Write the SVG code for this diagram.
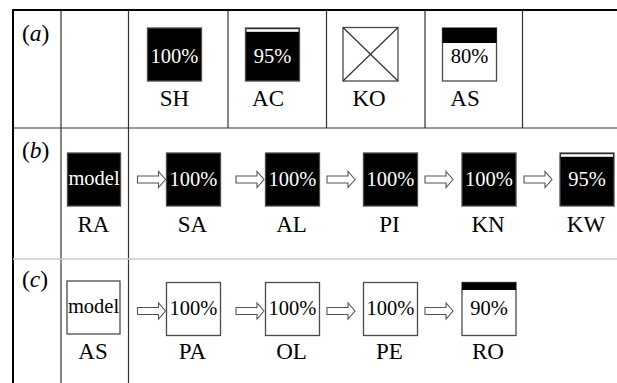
<svg xmlns="http://www.w3.org/2000/svg" width="617" height="383" viewBox="0 0 617 383">
  <style>
    .bg { fill: #ffffff; }
    .frame { stroke: #000; stroke-width: 2; fill: none; }
    .rule { stroke: #333; stroke-width: 1.2; fill: none; }
    .soft { stroke: #c8c8c8; stroke-width: 1.6; fill: none; }
    .dark { fill: #000; stroke: #4a4a4a; stroke-width: 1.3; }
    .light { fill: #fff; stroke: #4a4a4a; stroke-width: 1.3; }
    .band { fill: #000; stroke: none; }
    .gap { fill: #fff; stroke: none; }
    .cross { stroke: #333; stroke-width: 1.2; fill: none; }
    .pct { font-family: "Liberation Serif", "Times New Roman", serif; font-size: 20.5px; text-anchor: middle; }
    .pw { fill: #fff; }
    .pb { fill: #000; }
    .lbl { font-family: "Liberation Serif", "Times New Roman", serif; font-size: 23px; text-anchor: middle; fill: #000; }
    .tag { font-family: "Liberation Serif", "Times New Roman", serif; font-size: 23.5px; fill: #000; }
    .arrow { fill: #fff; stroke: #555; stroke-width: 1.1; stroke-linejoin: miter; }
  </style>
  <defs>
    <path id="harrow" d="M0,-3.5 H21 V-8 L28,0 L21,8 V3.5 H0 Z"/>
  </defs>

  <rect class="bg" x="0" y="0" width="617" height="383"/>

  <!-- table rules -->
  <g id="grid">
    <line class="frame" x1="13" y1="10" x2="617" y2="10"/>
    <line class="frame" x1="13" y1="9" x2="13" y2="383"/>
    <line class="rule" x1="61" y1="10" x2="61" y2="383"/>
    <line class="rule" x1="128.5" y1="10" x2="128.5" y2="383"/>
    <line class="rule" x1="228" y1="10" x2="228" y2="128"/>
    <line class="rule" x1="326.5" y1="10" x2="326.5" y2="128"/>
    <line class="rule" x1="425" y1="10" x2="425" y2="128"/>
    <line class="rule" x1="522.5" y1="10" x2="522.5" y2="128"/>
    <line class="rule" x1="13" y1="128" x2="617" y2="128"/>
    <line class="soft" x1="13" y1="259" x2="617" y2="259"/>
  </g>

  <!-- row tags -->
  <g id="tags">
    <text class="tag" x="22" y="41">(<tspan font-style="italic">a</tspan>)</text>
    <text class="tag" x="22" y="158">(<tspan font-style="italic">b</tspan>)</text>
    <text class="tag" x="22" y="287">(<tspan font-style="italic">c</tspan>)</text>
  </g>

  <!-- row (a) -->
  <g id="a-SH">
    <rect class="dark" x="147.5" y="28" width="54" height="53"/>
    <text class="pct pw" x="174.5" y="62.5">100%</text>
    <text class="lbl" x="174.5" y="106">SH</text>
  </g>
  <g id="a-AC">
    <rect class="dark" x="245.5" y="28" width="54" height="53"/>
    <rect class="gap" x="246.5" y="29.2" width="52" height="2.6"/>
    <text class="pct pw" x="272.5" y="62.5">95%</text>
    <text class="lbl" x="268" y="106">AC</text>
  </g>
  <g id="a-KO">
    <rect class="light" x="343" y="27.5" width="55" height="53.5"/>
    <line class="cross" x1="343" y1="27.5" x2="398" y2="81"/>
    <line class="cross" x1="398" y1="27.5" x2="343" y2="81"/>
    <text class="lbl" x="369" y="106">KO</text>
  </g>
  <g id="a-AS">
    <rect class="light" x="442.5" y="28" width="54" height="53"/>
    <rect class="band" x="442.5" y="28" width="54" height="15"/>
    <text class="pct pb" x="469.5" y="62.5">80%</text>
    <text class="lbl" x="465" y="106">AS</text>
  </g>

  <!-- row (b) -->
  <g id="b-RA">
    <rect class="dark" x="67.5" y="153" width="53" height="53"/>
    <text class="pct pw" x="94" y="185">model</text>
    <text class="lbl" x="93.5" y="231.5">RA</text>
  </g>
  <g id="b-SA">
    <rect class="dark" x="166.5" y="153" width="54" height="53"/>
    <text class="pct pw" x="193.5" y="186">100%</text>
    <text class="lbl" x="192.5" y="231.5">SA</text>
  </g>
  <g id="b-AL">
    <rect class="dark" x="265.5" y="153" width="54" height="53"/>
    <text class="pct pw" x="292.5" y="186">100%</text>
    <text class="lbl" x="291.5" y="231.5">AL</text>
  </g>
  <g id="b-PI">
    <rect class="dark" x="363.5" y="153" width="54" height="53"/>
    <text class="pct pw" x="390.5" y="186">100%</text>
    <text class="lbl" x="389.5" y="231.5">PI</text>
  </g>
  <g id="b-KN">
    <rect class="dark" x="462" y="153" width="54" height="53"/>
    <text class="pct pw" x="489" y="186">100%</text>
    <text class="lbl" x="488" y="231.5">KN</text>
  </g>
  <g id="b-KW">
    <rect class="dark" x="560" y="153" width="54" height="53"/>
    <rect class="gap" x="561" y="154.2" width="52" height="2.6"/>
    <text class="pct pw" x="587" y="186">95%</text>
    <text class="lbl" x="586" y="231.5">KW</text>
  </g>

  <!-- row (c) -->
  <g id="c-AS">
    <rect class="light" x="67" y="281" width="53" height="53"/>
    <text class="pct pb" x="93.5" y="313">model</text>
    <text class="lbl" x="93" y="358.5">AS</text>
  </g>
  <g id="c-PA">
    <rect class="light" x="166.5" y="282.5" width="54" height="53"/>
    <text class="pct pb" x="193.5" y="315">100%</text>
    <text class="lbl" x="192.5" y="358.5">PA</text>
  </g>
  <g id="c-OL">
    <rect class="light" x="265.5" y="282.5" width="54" height="53"/>
    <text class="pct pb" x="292.5" y="315">100%</text>
    <text class="lbl" x="291.5" y="358.5">OL</text>
  </g>
  <g id="c-PE">
    <rect class="light" x="363.5" y="282.5" width="54" height="53"/>
    <text class="pct pb" x="390.5" y="315">100%</text>
    <text class="lbl" x="389.5" y="358.5">PE</text>
  </g>
  <g id="c-RO">
    <rect class="light" x="462" y="282.5" width="54" height="53"/>
    <rect class="band" x="462" y="282.5" width="54" height="7.5"/>
    <text class="pct pb" x="489" y="315">90%</text>
    <text class="lbl" x="488" y="358.5">RO</text>
  </g>

  <!-- connectors: hollow block arrows -->
  <g id="connectors">
    <use href="#harrow" class="arrow" transform="translate(137.5,179.5)"/>
    <use href="#harrow" class="arrow" transform="translate(236,179.5)"/>
    <use href="#harrow" class="arrow" transform="translate(327,179.5)"/>
    <use href="#harrow" class="arrow" transform="translate(425,179.5)"/>
    <use href="#harrow" class="arrow" transform="translate(524,179.5)"/>
    <use href="#harrow" class="arrow" transform="translate(137.5,311)"/>
    <use href="#harrow" class="arrow" transform="translate(236,311)"/>
    <use href="#harrow" class="arrow" transform="translate(327,311)"/>
    <use href="#harrow" class="arrow" transform="translate(425,311)"/>
  </g>
</svg>
